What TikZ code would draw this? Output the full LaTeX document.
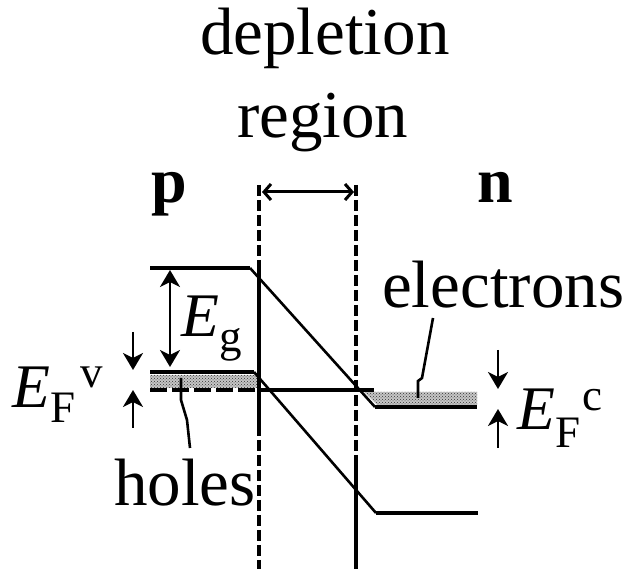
\documentclass[tikz,border=0pt]{standalone}
\usepackage{fontspec}
\setmainfont{Liberation Serif}
\usetikzlibrary{arrows.meta,patterns}
\begin{document}
\begin{tikzpicture}[x=1pt,y=-1pt,
  big/.style={font=\fontsize{67}{70}\selectfont, inner sep=0pt, anchor=base west},
  bold/.style={font=\fontsize{64}{68}\selectfont\bfseries, inner sep=0pt, anchor=base west},
  sym/.style={font=\fontsize{62}{66}\selectfont, inner sep=0pt, anchor=base west},
  band/.style={line width=3.3pt},
  slope/.style={line width=2.6pt},
  bound/.style={line width=3.8pt, dash pattern=on 11pt off 4pt},
  solidb/.style={line width=3.8pt},
  dim/.style={line width=2.8pt, -{Stealth[length=17pt,width=20pt,inset=5pt]}},
  dimboth/.style={line width=2.8pt, {Stealth[length=17pt,width=20pt,inset=5pt]}-{Stealth[length=17pt,width=20pt,inset=5pt]}},
  barb/.style={line width=3pt, {Straight Barb[length=7pt,width=16pt]}-{Straight Barb[length=7pt,width=16pt]}},
  leader/.style={line width=2.6pt},
  hatch/.style={fill=gray!45, postaction={pattern=crosshatch dots, pattern color=black!80}}]
\useasboundingbox (0,0) rectangle (630,569);
% texts
\node[big] (dep) at (200,55) {depletion};
\node[big] (reg) at (237,138) {region};
\node[bold] (p) at (151,203) {p};
\node[bold] (n) at (477,203) {n};
\node[big] (el) at (382,308) {electrons};
\node[big] (ho) at (114,506) {holes};
\newcommand{\ssz}{\fontsize{45}{45}\selectfont}
\node[sym] (eg) at (181,337) {\textit{E}\raisebox{-15pt}{\ssz g}};
\node[sym] (efv) at (12,408) {\textit{E}\raisebox{-15pt}{\ssz F}\kern5pt\raisebox{20pt}{\ssz v}};
\node[sym] (efc) at (517,430) {\textit{E}\raisebox{-18pt}{\ssz F}\kern2pt\raisebox{19pt}{\ssz c}};
% depletion boundaries
\coordinate (lt) at (259,185); \coordinate (lb) at (259,569);
\coordinate (rt) at (356,185); \coordinate (rb) at (356,569);
\draw[bound] (lt) -- (lb);
\draw[bound] (rt) -- (rb);
\coordinate (ls1) at (259,268); \coordinate (ls2) at (259,436);
\draw[solidb] (ls1) -- (ls2);
\coordinate (rs1) at (356,457);
\draw[solidb] (rs1) -- (rb);
\coordinate (wa) at (262,192); \coordinate (wb) at (354,192);
\draw[barb] (wa) -- (wb);
% hatching
\path[hatch] (150,375) rectangle (257,388);
\path[hatch] (364,392) -- (477,392) -- (477,405) -- (377,405) -- cycle;
% bands
\coordinate (c1) at (150,268); \coordinate (c2) at (250,268);
\coordinate (c3) at (375,407); \coordinate (c4) at (477,407);
\draw[band] (c1) -- (c2);
\draw[slope] (c2) -- (c3);
\draw[band] (c3) -- (c4);
\coordinate (v1) at (150,372); \coordinate (v2) at (254,372);
\coordinate (v3) at (376,513); \coordinate (v4) at (478,513);
\draw[band] (v1) -- (v2);
\draw[slope] (v2) -- (v3);
\draw[band] (v3) -- (v4);
% Fermi level
\coordinate (f1) at (150,390); \coordinate (f2) at (258,390); \coordinate (f3) at (374,390);
\draw[line width=3.3pt, dash pattern=on 17pt off 5pt] (f1) -- (f2);
\draw[band] (f2) -- (f3);
% dimension arrows
\coordinate (gt) at (170,270); \coordinate (gb) at (170,367);
\draw[dimboth] (gt) -- (gb);
\coordinate (a1) at (133,332); \coordinate (a2) at (133,370);
\coordinate (a3) at (133,428); \coordinate (a4) at (133,390);
\draw[dim] (a1) -- (a2);
\draw[dim] (a3) -- (a4);
\coordinate (b1) at (498,350); \coordinate (b2) at (498,389);
\coordinate (b3) at (498,448); \coordinate (b4) at (498,409);
\draw[dim] (b1) -- (b2);
\draw[dim] (b3) -- (b4);
% leaders
\coordinate (h1) at (181,378); \coordinate (h2) at (181,400);
\coordinate (h3) at (187,420); \coordinate (h4) at (190,448);
\draw[leader] (h1) -- (h2) -- (h3) -- (h4);
\coordinate (e1) at (433,318); \coordinate (e2) at (422,378);
\coordinate (e3) at (418,381); \coordinate (e4) at (418,398);
\draw[leader] (e1) -- (e2) -- (e3) -- (e4);
\end{tikzpicture}
\end{document}
